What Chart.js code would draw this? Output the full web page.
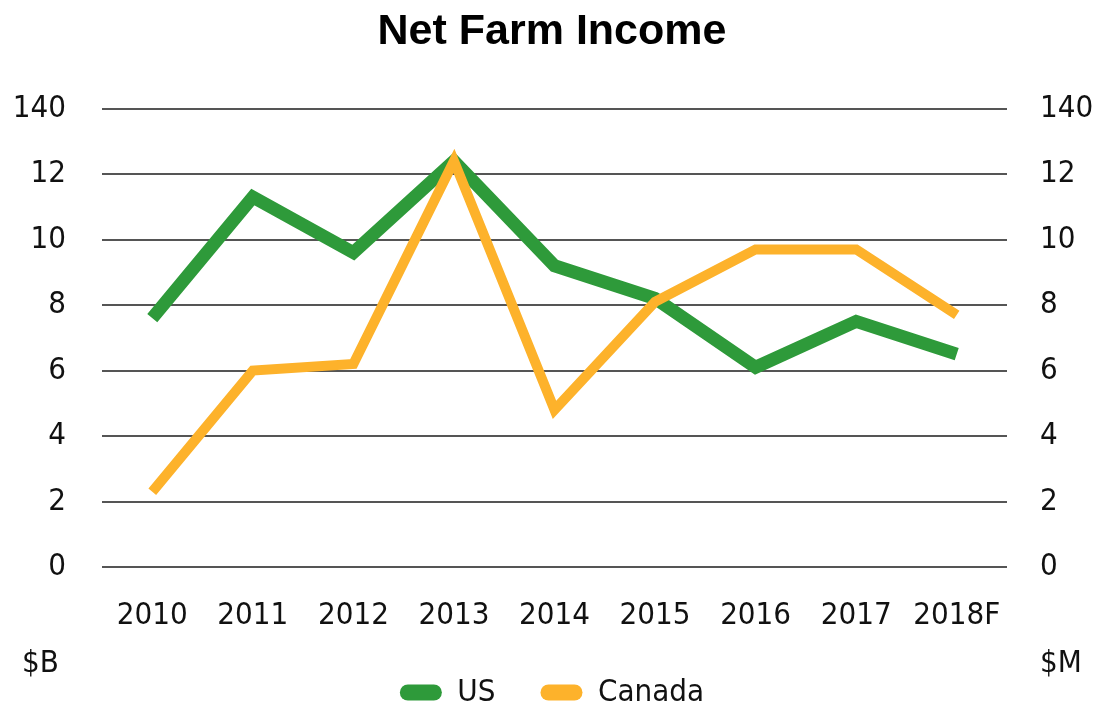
<!DOCTYPE html>
<html>
<head>
<meta charset="utf-8">
<script src="https://cdn.jsdelivr.net/npm/chart.js@4"></script>
<style>
  html, body { margin: 0; padding: 0; background: #ffffff; }
  #wrap { position: relative; width: 1104px; height: 705px; }
  canvas { display: block; }
  .unit { position: absolute; font-family: "DejaVu Sans Condensed", "Liberation Sans Narrow", sans-serif; font-size: 31px; color: #111; }
</style>
</head>
<body>
<div id="wrap">
  <canvas id="c" width="1104" height="705"></canvas>
  <div class="unit" id="ub" style="left:22px; top:643px;">$B</div>
  <div class="unit" id="um" style="left:1040px; top:643px;">$M</div>
</div>
<script>
const years = ['2010', '2011', '2012', '2013', '2014', '2015', '2016', '2017', '2018F'];
const usIncome = [7.6, 11.3, 9.6, 12.4, 9.2, 8.2, 6.1, 7.5, 6.5];
const canadaIncome = [2.3, 6.0, 6.2, 12.4, 4.8, 8.1, 9.7, 9.7, 7.7];
const seriesNames = ['US', 'Canada'];
const seriesColors = ['#2e9a3a', '#fdb22b'];
const yTickLabels = {0: '0', 2: '2', 4: '4', 6: '6', 8: '8', 10: '10', 12: '12', 14: '140'};

const FONT = '"DejaVu Sans Condensed", "Liberation Sans Narrow", sans-serif';

new Chart(document.getElementById('c'), {
  type: 'line',
  data: {
    labels: years,
    datasets: [
      { label: seriesNames[0], data: usIncome, borderColor: seriesColors[0], backgroundColor: seriesColors[0],
        borderWidth: 13, pointRadius: 0, tension: 0, borderJoinStyle: 'miter', order: 1, yAxisID: 'y' },
      { label: seriesNames[1], data: canadaIncome, borderColor: seriesColors[1], backgroundColor: seriesColors[1],
        borderWidth: 10, pointRadius: 0, tension: 0, borderJoinStyle: 'miter', order: 0, yAxisID: 'y' }
    ]
  },
  options: {
    responsive: false,
    animation: false,
    events: [],
    layout: { padding: { top: 6, bottom: -13, left: 0, right: 0 } },
    plugins: {
      title: {
        display: true, text: 'Net Farm Income', color: '#000',
        font: { family: '"Liberation Sans", Arial, sans-serif', size: 43, weight: 'bold' },
        padding: { top: 0, bottom: 51 }
      },
      legend: {
        position: 'bottom',
        labels: {
          font: { family: FONT, size: 31 }, color: '#111',
          boxWidth: 42, boxHeight: 16, padding: 45,
          useBorderRadius: true, borderRadius: 8,
          generateLabels: () => seriesNames.map((n, i) => ({
            text: n, fillStyle: seriesColors[i], strokeStyle: seriesColors[i], lineWidth: 0,
            hidden: false, datasetIndex: i, borderRadius: 8, fontColor: '#111'
          }))
        }
      },
      tooltip: { enabled: false }
    },
    scales: {
      x: {
        offset: true,
        grid: { display: false, drawTicks: false },
        border: { display: false },
        ticks: { color: '#111', font: { family: FONT, size: 31 }, padding: 30, maxRotation: 0, autoSkip: false },
        afterFit: (s) => { s.height = 65; }
      },
      y: {
        position: 'left', min: 0, max: 14,
        grid: { color: '#555', lineWidth: 2, drawTicks: false },
        border: { display: false },
        ticks: { stepSize: 2, color: '#111', font: { family: FONT, size: 31 }, padding: 36,
                 callback: (v) => yTickLabels[v] },
        afterFit: (s) => { s.width = 102; }
      },
      y2: {
        position: 'right', min: 0, max: 14,
        grid: { display: false, drawTicks: false },
        border: { display: false },
        ticks: { stepSize: 2, color: '#111', font: { family: FONT, size: 31 }, padding: 33,
                 callback: (v) => yTickLabels[v] },
        afterFit: (s) => { s.width = 97; }
      }
    }
  }
});
</script>
</body>
</html>
